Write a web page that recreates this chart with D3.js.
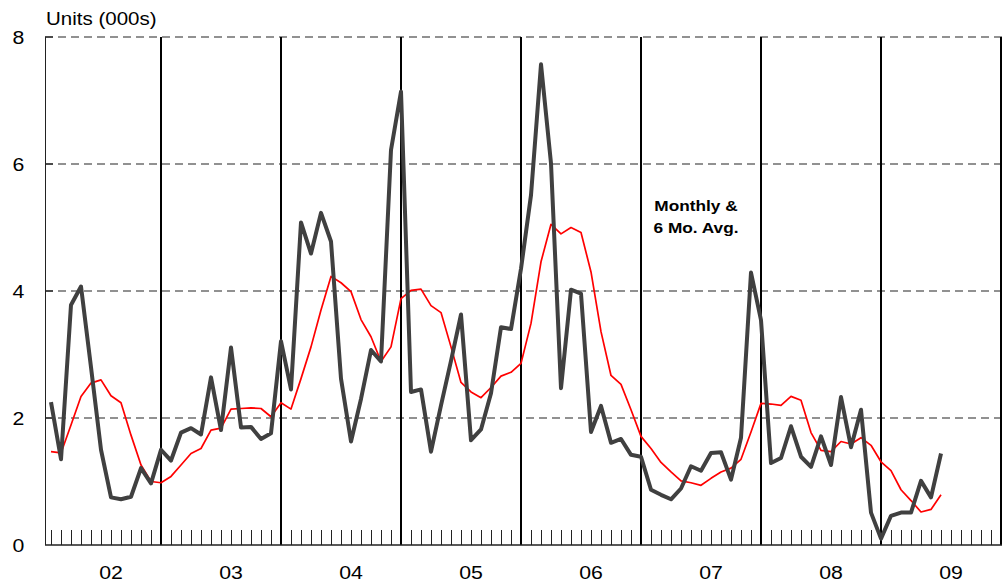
<!DOCTYPE html>
<html>
<head>
<meta charset="utf-8">
<script src="https://cdn.jsdelivr.net/npm/d3@7"></script>
<style>
  html, body { margin: 0; padding: 0; background: #fff; }
  svg { display: block; font-family: "Liberation Sans", Arial, sans-serif; }
</style>
</head>
<body>
<svg id="chart" width="1002" height="586"></svg>
<script>
// Monthly units (000s), Jan 2002 onward
const monthly = [
  2.25, 1.35, 3.78, 4.07, 2.80, 1.50, 0.75, 0.72, 0.76, 1.21, 0.97, 1.50,
  1.33, 1.77, 1.84, 1.74, 2.64, 1.81, 3.11, 1.85, 1.86, 1.67, 1.76, 3.21,
  2.45, 5.08, 4.59, 5.23, 4.78, 2.62, 1.63, 2.30, 3.07, 2.89, 6.22, 7.14,
  2.41, 2.45, 1.47, 2.20, 2.90, 3.63, 1.65, 1.82, 2.39, 3.43, 3.40, 4.35,
  5.51, 7.57, 6.01, 2.47, 4.02, 3.96, 1.78, 2.19, 1.61, 1.67, 1.42, 1.39,
  0.87, 0.79, 0.72, 0.89, 1.24, 1.17, 1.45, 1.46, 1.03, 1.69, 4.29, 3.54,
  1.29, 1.37, 1.87, 1.39, 1.23, 1.71, 1.26, 2.33, 1.54, 2.13, 0.51, 0.10,
  0.46, 0.51, 0.51, 1.01, 0.75, 1.44
];
// 6-month moving average
const avg6 = [
  1.47, 1.45, 1.89, 2.34, 2.55, 2.60, 2.35, 2.24, 1.73, 1.26, 1.00, 0.98,
  1.08, 1.26, 1.44, 1.52, 1.81, 1.84, 2.14, 2.15, 2.16, 2.15, 2.02, 2.24,
  2.14, 2.62, 3.12, 3.70, 4.23, 4.13, 3.99, 3.55, 3.28, 2.89, 3.12, 3.88,
  4.01, 4.03, 3.77, 3.66, 3.12, 2.56, 2.41, 2.32, 2.48, 2.66, 2.72, 2.86,
  3.49, 4.46, 5.05, 4.90, 5.00, 4.92, 4.30, 3.36, 2.67, 2.53, 2.13, 1.71,
  1.52, 1.30, 1.15, 1.01, 0.98, 0.94, 1.05, 1.15, 1.21, 1.35, 1.78, 2.23,
  2.22, 2.20, 2.34, 2.28, 1.77, 1.49, 1.47, 1.63, 1.59, 1.69, 1.57, 1.31,
  1.17, 0.87, 0.70, 0.52, 0.56, 0.79
];
const yearLabels = ["02", "03", "04", "05", "06", "07", "08", "09"];
const yTicks = [0, 2, 4, 6, 8];
const yTitle = "Units (000s)";
const noteLines = ["Monthly &", "6 Mo. Avg."];

const svg = d3.select("#chart");
const nMonths = 96;
const x = d3.scaleLinear().domain([0, 95]).range([51, 1001]);
const y = d3.scaleLinear().domain([0, 8]).range([545, 37]);
const left = 45, right = 1002;

// gridlines
svg.append("g").selectAll("line")
  .data(yTicks.filter(d => d > 0))
  .join("line")
  .attr("x1", left).attr("x2", right)
  .attr("y1", d => y(d)).attr("y2", d => y(d))
  .attr("stroke", "#6e6e6e").attr("stroke-width", 1.5)
  .attr("stroke-dasharray", "8,5");

// y tick marks on left
svg.append("g").selectAll("line")
  .data(yTicks.filter(d => d > 0))
  .join("line")
  .attr("x1", left).attr("x2", left + 8)
  .attr("y1", d => y(d)).attr("y2", d => y(d))
  .attr("stroke", "#333").attr("stroke-width", 1.5);

// month ticks
const monthIdx = d3.range(0, nMonths).filter(i => (i - 11) % 12 !== 0);
svg.append("g").attr("shape-rendering", "crispEdges").selectAll("line")
  .data(monthIdx)
  .join("line")
  .attr("x1", d => x(d) + 0.5).attr("x2", d => x(d) + 0.5)
  .attr("y1", 530).attr("y2", y(0))
  .attr("stroke", "#222").attr("stroke-width", 1);

// year separator lines
const yearIdx = d3.range(11, nMonths, 12);
svg.append("g").selectAll("line")
  .data(yearIdx)
  .join("line")
  .attr("x1", d => x(d)).attr("x2", d => x(d))
  .attr("y1", y(8)).attr("y2", y(0))
  .attr("stroke", "#000").attr("stroke-width", 2);

// axes lines
svg.append("line").attr("x1", left + 0.5).attr("x2", left + 0.5)
  .attr("y1", y(8)).attr("y2", y(0)).attr("stroke", "#222").attr("stroke-width", 1);
svg.append("line").attr("x1", left).attr("x2", right)
  .attr("y1", y(0)).attr("y2", y(0)).attr("stroke", "#222").attr("stroke-width", 1.5);

// y labels
svg.append("g").selectAll("text")
  .data(yTicks)
  .join("text")
  .attr("transform", d => `translate(18.5,${y(d)}) scale(1.12,1)`)
  .attr("text-anchor", "middle").attr("dy", "0.35em")
  .attr("font-size", 19).attr("fill", "#000")
  .text(d => d);

// y title
svg.append("text")
  .attr("transform", "translate(46,25) scale(1.14,1)")
  .attr("font-size", 18).attr("fill", "#000")
  .text(yTitle);

// year labels
svg.append("g").selectAll("text")
  .data(yearLabels)
  .join("text")
  .attr("transform", (d, i) => `translate(${x(6 + 12 * i)},579) scale(1.12,1)`)
  .attr("text-anchor", "middle")
  .attr("font-size", 19).attr("fill", "#000")
  .text(d => d);

// lines
const line = d3.line().x((d, i) => x(i)).y(d => y(d));
svg.append("path").datum(avg6)
  .attr("d", line).attr("fill", "none")
  .attr("stroke", "#ff0000").attr("stroke-width", 1.7)
  .attr("stroke-linejoin", "round");
svg.append("path").datum(monthly)
  .attr("d", line).attr("fill", "none")
  .attr("stroke", "#404040").attr("stroke-width", 4)
  .attr("stroke-linejoin", "round");

// annotation
svg.append("g").selectAll("text")
  .data(noteLines)
  .join("text")
  .attr("transform", (d, i) => `translate(696,${211 + 22 * i}) scale(1.15,1)`)
  .attr("text-anchor", "middle")
  .attr("font-size", 15).attr("font-weight", "bold").attr("fill", "#000")
  .text(d => d);
</script>
</body>
</html>
